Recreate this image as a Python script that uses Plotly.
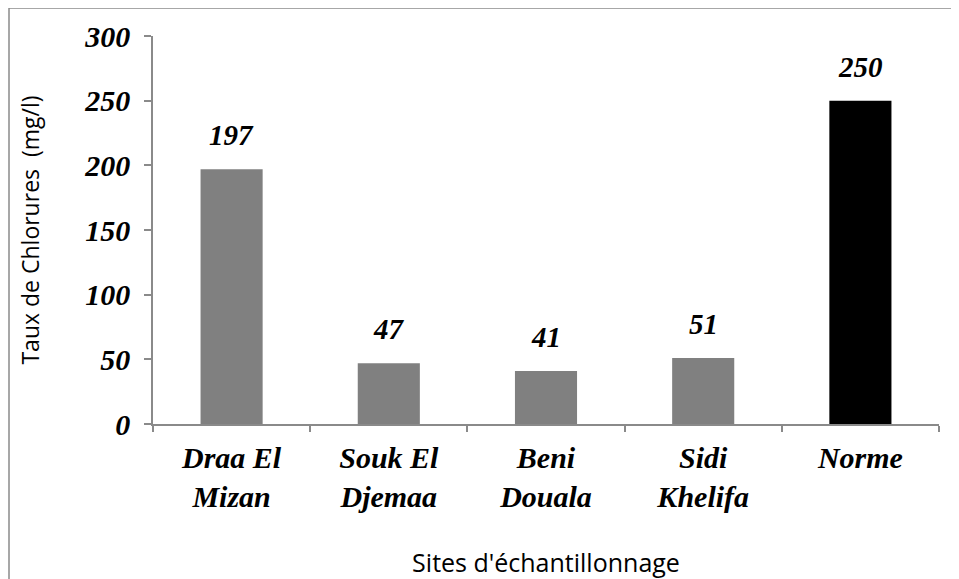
import plotly.graph_objects as go

sites = ["Draa El<br>Mizan", "Souk El<br>Djemaa", "Beni<br>Douala", "Sidi<br>Khelifa", "Norme"]
chlorures = [197, 47, 41, 51, 250]
bar_colors = ["#808080", "#808080", "#808080", "#808080", "#000000"]
y_ticks = [0, 50, 100, 150, 200, 250, 300]

serif_bi = dict(family="Liberation Serif, Times New Roman, serif", size=30, color="black",
                weight="bold", style="italic")
label_font = dict(serif_bi, size=29)

fig = go.Figure(go.Bar(x=sites, y=chlorures, marker=dict(color=bar_colors, line=dict(width=0)),
                       width=0.395, hoverinfo="skip"))

for s, v in zip(sites, chlorures):
    fig.add_annotation(x=s, y=v, text=str(v), showarrow=False, yanchor="middle",
                       yshift=34, font=label_font)

# page body has an 8px margin: figure drawn from (8, 8)
W, H = 951, 571
L, R, T, B = 145, 20, 28, 155
pw = W - L - R
ph = H - T - B
fig.add_shape(type="rect", xref="paper", yref="paper",
              x0=(1 - L) / pw, x1=(W + 5 - L) / pw,
              y0=-(B + 5) / ph, y1=(H - B - 0) / ph,
              line=dict(color="#8a8a8a", width=1.5), fillcolor="rgba(0,0,0,0)", layer="below")

fig.update_layout(
    width=W, height=H,
    margin=dict(l=L, r=R, t=T, b=B, autoexpand=False),
    plot_bgcolor="white", paper_bgcolor="white",
    showlegend=False,
    xaxis=dict(showline=True, linecolor="#8a8a8a", linewidth=1.5, automargin=False,
               ticks="outside", tickson="boundaries", ticklen=6, tickcolor="#8a8a8a",
               tickwidth=1.5, tickfont=serif_bi, showgrid=False, ticklabelstandoff=6,
               title=dict(text="Sites d'échantillonnage", standoff=47,
                          font=dict(family="Open Sans, sans-serif", size=25, color="black"))),
    yaxis=dict(range=[0, 300], tickvals=y_ticks, showline=True, linecolor="#8a8a8a",
               linewidth=1.5, ticks="outside", ticklen=7, tickcolor="#8a8a8a", tickwidth=1.5,
               tickfont=serif_bi, showgrid=False, zeroline=False, ticklabelstandoff=8,
               automargin=False,
               title=dict(text="Taux de Chlorures\u00a0\u00a0(mg/l)", standoff=38,
                          font=dict(family="Open Sans, sans-serif", size=23, color="black"))),
)

fig.write_html("out.html")
